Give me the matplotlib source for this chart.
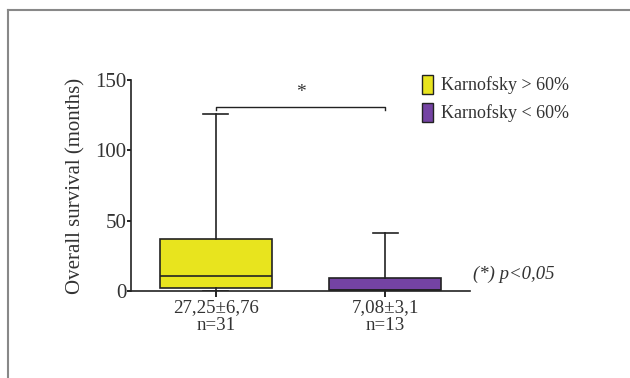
import matplotlib.pyplot as plt
from matplotlib.lines import Line2D

# values (months)
groups = ['Karnofsky > 60%', 'Karnofsky < 60%']
means = ['27,25±6,76', '7,08±3,1']
counts = ['n=31', 'n=13']
whislo = [0.3, 0.3]
q1 = [2.0, 0.8]
med = [11.0, 1.0]
q3 = [37.0, 9.5]
whishi = [126.0, 41.0]
colors = ['#e8e41e', '#7443a3']

plt.rcParams['font.family'] = ['Liberation Serif', 'DejaVu Serif']

fig = plt.figure(figsize=(6.3, 3.78), dpi=100)
ax = fig.add_axes([0.208, 0.230, 0.538, 0.558])

stats = []
for i in range(len(groups)):
	stats.append({'whislo': whislo[i], 'q1': q1[i], 'med': med[i],
		'q3': q3[i], 'whishi': whishi[i], 'fliers': [], 'label': ''})

bp = ax.bxp(stats, positions=[1, 2], widths=0.66, patch_artist=True,
	showfliers=False, capwidths=0.15,
	boxprops=dict(linewidth=1.2, edgecolor='#222222'),
	medianprops=dict(color='#222222', linewidth=1.2),
	whiskerprops=dict(color='#222222', linewidth=1.2),
	capprops=dict(color='#222222', linewidth=1.2))
for patch, c in zip(bp['boxes'], colors):
	patch.set_facecolor(c)

ax.set_xlim(0.5, 2.5)
ax.set_ylim(0, 150)
ax.set_yticks([0, 50, 100, 150])
ax.set_xticks([1, 2])
ax.set_xticklabels([m + '\n' + n for m, n in zip(means, counts)], fontsize=13.6, linespacing=1.05)
ax.tick_params(axis='y', labelsize=15, length=3, width=1.2, pad=0.5, labelcolor='#333333')
ax.tick_params(axis='x', length=4, width=1.2, pad=2, labelcolor='#333333')
for s in ['top', 'right']:
	ax.spines[s].set_visible(False)
for s in ['left', 'bottom']:
	ax.spines[s].set_linewidth(1.2)
	ax.spines[s].set_color('#222222')
ax.set_ylabel('Overall survival (months)', fontsize=15, labelpad=7, color='#333333')

# significance bracket
yb = 131
ax.plot([1, 1, 2, 2], [yb - 2, yb, yb, yb - 2], color='#222222', lw=1.0, clip_on=False)
ax.text(1.5, yb + 4, '*', ha='center', va='bottom', fontsize=14, color='#333333')
ax.text(2.52, 12, '(*) p<0,05', ha='left', va='center', fontsize=13.5, style='italic',
	color='#333333', clip_on=False)

# legend
handles = [plt.Rectangle((0, 0), 1, 1, facecolor=c, edgecolor='#222222', lw=1.0) for c in colors]
leg = fig.legend(handles, groups, loc='upper left', bbox_to_anchor=(0.659, 0.822),
	frameon=False, fontsize=13, handlelength=0.6, handleheight=1.3,
	handletextpad=0.45, labelspacing=0.45, borderaxespad=0)
for t in leg.get_texts():
	t.set_color('#333333')

# outer frame
fig.add_artist(Line2D([8 / 630, 1], [1 - 10 / 378, 1 - 10 / 378], color='#888888', lw=1.5))
fig.add_artist(Line2D([8 / 630, 8 / 630], [0, 1 - 10 / 378], color='#888888', lw=1.5))

fig.savefig('out.png', dpi=100)
